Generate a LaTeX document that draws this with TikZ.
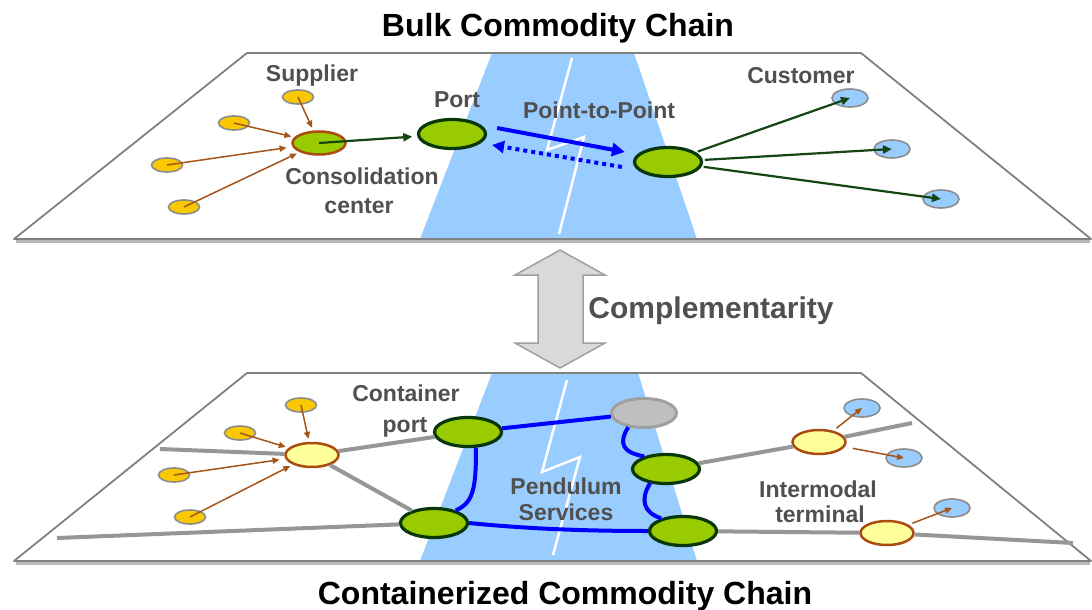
\documentclass[tikz,border=0pt]{standalone}
\usepackage{fontspec}
\setmainfont{Liberation Sans}
\usetikzlibrary{shapes.geometric,arrows.meta,calc}
\definecolor{water}{RGB}{153,204,255}
\definecolor{gold}{RGB}{250,200,0}
\definecolor{portgreen}{RGB}{153,204,0}
\definecolor{darkgreen}{RGB}{10,55,10}
\definecolor{brownc}{RGB}{170,75,15}
\definecolor{brownarr}{RGB}{165,85,25}
\definecolor{lyellow}{RGB}{255,255,153}
\definecolor{custblue}{RGB}{153,204,255}
\definecolor{edgegray}{RGB}{140,140,140}
\definecolor{roadgray}{RGB}{150,150,150}
\definecolor{labelgray}{RGB}{80,80,80}
\definecolor{greenarr}{RGB}{20,70,20}
\definecolor{pureblue}{RGB}{0,0,255}
\definecolor{planeedge}{RGB}{128,128,128}
\begin{document}
\begin{tikzpicture}[x=1pt,y=-1pt,
  planefill/.style={fill=white},
  planeline/.style={draw=planeedge, line width=1.8pt, line join=round},
  shadowline/.style={draw=gray!55, line width=3pt},
  waterfill/.style={fill=water},
  zig/.style={draw=white, line width=2.5pt, line join=miter},
  supp/.style={ellipse, fill=gold, draw=edgegray, line width=1.6pt, minimum width=31pt, minimum height=14pt, inner sep=0pt},
  cust/.style={ellipse, fill=custblue, draw=edgegray, line width=1.6pt, minimum width=36pt, minimum height=18pt, inner sep=0pt},
  portnode/.style={ellipse, fill=portgreen, draw=darkgreen, line width=3.2pt, minimum width=67pt, minimum height=29pt, inner sep=0pt},
  ccgreen/.style={ellipse, fill=portgreen, draw=brownc, line width=2.5pt, minimum width=53pt, minimum height=23pt, inner sep=0pt},
  ccyellow/.style={ellipse, fill=lyellow, draw=brownc, line width=2.5pt, minimum width=53pt, minimum height=24pt, inner sep=0pt},
  grayport/.style={ellipse, fill=gray!50, draw=gray!75, line width=3pt, minimum width=65pt, minimum height=29pt, inner sep=0pt},
  lbl/.style={font=\fontsize{23}{27}\selectfont\bfseries, text=labelgray, inner sep=0pt, text height=16.5pt, text depth=0pt},
  ttl/.style={font=\fontsize{32}{38}\selectfont\bfseries, text=black, inner sep=0pt, text height=23pt, text depth=0pt},
  brarr/.style={draw=brownarr, line width=1.5pt, -{Triangle[length=7pt,width=6pt]}},
  grarr/.style={draw=greenarr, line width=2.2pt, -{Triangle[length=9pt,width=8pt]}},
  bluearr/.style={draw=pureblue, line width=4pt, -{Triangle[length=13pt,width=13pt]}},
  bluedot/.style={draw=pureblue, line width=4pt, dash pattern=on 4pt off 4pt, -{Triangle[length=12pt,width=12pt]}},
  road/.style={draw=roadgray, line width=4pt},
  route/.style={draw=pureblue, line width=4pt},
  dblarrow/.style={fill=gray!30, draw=gray!75, line width=1.5pt, line join=miter}
]
\useasboundingbox (0,0) rectangle (1092,610);

% ---------- titles ----------
\node[ttl] (t1) at (558,25) {Bulk Commodity Chain};
\node[ttl] (t2) at (565,593) {Containerized Commodity Chain};

% ---------- top plane ----------
\draw[shadowline] (16,241.5) -- (1090,241.5);
\fill[planefill] (247,53) -- (861,53) -- (1091,239) -- (14,239) -- cycle;
\fill[waterfill] (492,53) -- (634,53) -- (697,239) -- (420,239) -- cycle;
\draw[planeline] (247,53) -- (861,53) -- (1091,239) -- (14,239) -- cycle;
\draw[zig] (572,58) -- (547,150) -- (584,137) -- (559,234);

% nodes top
\node[supp] (s1) at (298,97) {};
\node[supp] (s2) at (234,123) {};
\node[supp] (s3) at (167,165) {};
\node[supp] (s4) at (184,207) {};
\node[ccgreen] (cc) at (319,143) {};
\node[portnode] (port) at (452,134) {};
\node[portnode] (port2) at (668,162) {};
\node[cust] (c1) at (850,98) {};
\node[cust] (c2) at (892,149) {};
\node[cust] (c3) at (941,199) {};

% labels top
\node[lbl] (lsup) at (312,73) {Supplier};
\node[lbl] (lport) at (457,99) {Port};
\node[lbl] (lptp) at (599,110) {Point-to-Point};
\node[lbl] (lcust) at (801,75) {Customer};
\node[lbl] (lcons1) at (362,176) {Consolidation};
\node[lbl] (lcons2) at (359,205) {center};

% connectors top
\draw[brarr, shorten >=3pt] (s1.center) -- (cc);
\draw[brarr, shorten >=3pt] (s2.center) -- (cc);
\draw[brarr, shorten >=6pt] (s3.center) -- (cc);
\draw[brarr, shorten >=3pt] (s4.center) -- (cc);
\draw[grarr, shorten >=5pt] (cc.center) -- (port);
\draw[bluearr] ($(port.east)+(10,-6)$) -- ($(port2.west)+(-8,-10)$);
\draw[bluedot] ($(port2.west)+(-11,5)$) -- ($(port.east)+(5,11)$);
\draw[grarr, shorten <=2pt] (port2) -- (c1.center);
\draw[grarr, shorten <=2pt] (port2) -- (c2.center);
\draw[grarr, shorten <=2pt] (port2) -- (c3.center);

% ---------- complementarity arrow ----------
\filldraw[dblarrow] (560,250) -- (605,275) -- (583,275) -- (583,343) -- (605,343) -- (560,368)
  -- (515,343) -- (538,343) -- (538,275) -- (515,275) -- cycle;
\node[font=\fontsize{30}{36}\selectfont\bfseries, text=labelgray, inner sep=0pt, text height=21.5pt, text depth=0pt] (lcomp) at (711,308) {Complementarity};

% ---------- bottom plane ----------
\draw[shadowline] (16,563.5) -- (1090,563.5);
\fill[planefill] (247,373) -- (861,373) -- (1091,561) -- (14,561) -- cycle;
\fill[waterfill] (492,373) -- (638,373) -- (697,561) -- (420,561) -- cycle;
\draw[planeline] (247,373) -- (861,373) -- (1091,561) -- (14,561) -- cycle;
\draw[zig] (567,380) -- (542,472) -- (580,457) -- (553,555);

% nodes bottom
\node[supp] (bs1) at (301,405) {};
\node[supp] (bs2) at (240,433) {};
\node[supp] (bs3) at (174,475) {};
\node[supp] (bs4) at (190,517) {};
\node[ccyellow] (cc2) at (312,455) {};
\node[portnode] (cp) at (468,432) {};
\node[portnode] (bp) at (434,523) {};
\node[grayport] (gp) at (644,413) {};
\node[portnode] (rm) at (666,469) {};
\node[portnode] (br) at (683,531) {};
\node[ccyellow] (im1) at (819,442) {};
\node[ccyellow] (im2) at (887,533) {};
\node[cust] (bc1) at (862,408) {};
\node[cust] (bc2) at (904,458) {};
\node[cust] (bc3) at (952,508) {};

\coordinate (r1) at (160,449);
\coordinate (r2) at (57,538);
\coordinate (r3) at (912,423);
\coordinate (r4) at (1073,543);

% roads
\draw[road] (r1) -- (cc2);
\draw[road] (cc2) -- (cp);
\draw[road] (cc2) -- (bp);
\draw[road] (r2) -- (bp);
\draw[road] (rm) -- (im1);
\draw[road] (im1) -- (r3);
\draw[road] (br) -- (im2);
\draw[road] (im2) -- (r4);

% pendulum routes
\draw[route] (cp) -- (gp);
\draw[route] (cp.-63) .. controls +(0,40) and +(18,-8) .. (bp.30);
\draw[route] (bp.east) .. controls +(60,6) and +(-60,0) .. (br.west);
\draw[route] (gp.222) .. controls +(-10,16) and +(-22,-4) .. (rm.150);
\draw[route] (rm.222) .. controls +(-10,16) and +(-18,-6) .. (br.150);

% labels bottom
\node[lbl] (lcont1) at (406,393) {Container};
\node[lbl] (lcont2) at (405,424) {port};
\node[lbl] (lpend1) at (566,486) {Pendulum};
\node[lbl] (lpend2) at (566,512) {Services};
\node[lbl] (lint1) at (818,489) {Intermodal};
\node[lbl] (lint2) at (820,514) {terminal};

% arrows bottom
\draw[brarr, shorten >=3pt] (bs1.center) -- (cc2);
\draw[brarr, shorten >=3pt] (bs2.center) -- (cc2);
\draw[brarr, shorten >=6pt] (bs3.center) -- (cc2);
\draw[brarr, shorten >=3pt] (bs4.center) -- (cc2);
\draw[brarr, shorten <=4pt] (im1) -- (bc1.center);
\draw[brarr, shorten <=8pt] (im1) -- (bc2.center);
\draw[brarr, shorten <=4pt] (im2) -- (bc3.center);
\end{tikzpicture}
\end{document}
